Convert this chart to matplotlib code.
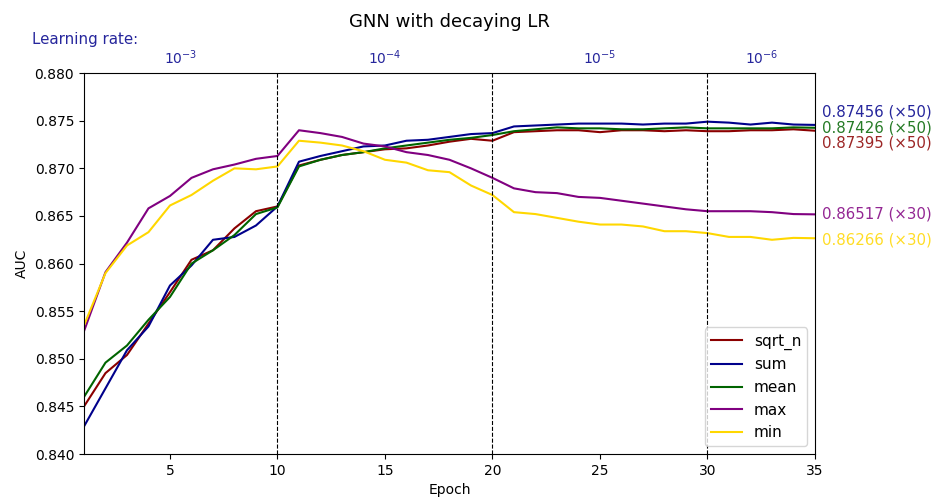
import numpy as np
import matplotlib
matplotlib.use("Agg")
import matplotlib.pyplot as plt
import matplotlib.transforms as mtransforms

epochs = list(range(1, 36))

sqrt_n = [0.8450, 0.8485, 0.8504, 0.8537, 0.8570, 0.8604, 0.8614, 0.8637, 0.8655, 0.8660,
          0.8703, 0.8709, 0.8714, 0.8717, 0.8720, 0.8721, 0.8724, 0.8728, 0.8731, 0.8729,
          0.8738, 0.8739, 0.8740, 0.8740, 0.8738, 0.8740, 0.8740, 0.8739, 0.8740, 0.8739,
          0.8739, 0.8740, 0.8740, 0.8741, 0.87395]
sum_ = [0.8429, 0.8469, 0.8509, 0.8534, 0.8577, 0.8598, 0.8625, 0.8628, 0.8640, 0.8660,
        0.8707, 0.8713, 0.8718, 0.8723, 0.8724, 0.8729, 0.8730, 0.8733, 0.8736, 0.8737,
        0.8744, 0.8745, 0.8746, 0.8747, 0.8747, 0.8747, 0.8746, 0.8747, 0.8747, 0.8749,
        0.8748, 0.8746, 0.8748, 0.8746, 0.87456]
mean = [0.8460, 0.8496, 0.8514, 0.8541, 0.8565, 0.8600, 0.8614, 0.8630, 0.8652, 0.8659,
        0.8702, 0.8709, 0.8714, 0.8717, 0.8721, 0.8724, 0.8727, 0.8730, 0.8732, 0.8735,
        0.8739, 0.8741, 0.8743, 0.8742, 0.8742, 0.8741, 0.8741, 0.8742, 0.8743, 0.8742,
        0.8742, 0.8742, 0.8742, 0.8743, 0.87426]
max_ = [0.8529, 0.8591, 0.8622, 0.8658, 0.8671, 0.8690, 0.8699, 0.8704, 0.8710, 0.8713,
        0.8740, 0.8737, 0.8733, 0.8726, 0.8723, 0.8717, 0.8714, 0.8709, 0.8700, 0.8690,
        0.8679, 0.8675, 0.8674, 0.8670, 0.8669, 0.8666, 0.8663, 0.8660, 0.8657, 0.8655,
        0.8655, 0.8655, 0.8654, 0.8652, 0.86517]
min_ = [0.8535, 0.8590, 0.8619, 0.8633, 0.8661, 0.8672, 0.8687, 0.8700, 0.8699, 0.8702,
        0.8729, 0.8727, 0.8724, 0.8718, 0.8709, 0.8706, 0.8698, 0.8696, 0.8682, 0.8672,
        0.8654, 0.8652, 0.8648, 0.8644, 0.8641, 0.8641, 0.8639, 0.8634, 0.8634, 0.8632,
        0.8628, 0.8628, 0.8625, 0.8627, 0.86266]

series = [("sqrt_n", sqrt_n, "darkred"), ("sum", sum_, "darkblue"),
          ("mean", mean, "darkgreen"), ("max", max_, "purple"), ("min", min_, "gold")]

lr_bounds = [10, 20, 30]
lr_labels = [r"$10^{-3}$", r"$10^{-4}$", r"$10^{-5}$", r"$10^{-6}$"]
lr_centers = [5.5, 15, 25, 32.5]

# end-of-line labels: (text, color, value, vertical offset in points)
end_labels = [("0.87456 (\u00d750)", "darkblue", sum_[-1], 9),
              ("0.87426 (\u00d750)", "darkgreen", mean[-1], 0),
              ("0.87395 (\u00d750)", "darkred", sqrt_n[-1], -9),
              ("0.86517 (\u00d730)", "purple", max_[-1], 0),
              ("0.86266 (\u00d730)", "gold", min_[-1], -1)]

fig = plt.figure(figsize=(9.33, 4.99), dpi=100)
ax = fig.add_axes([0.090, 0.090, 0.7835, 0.7635])

for name, vals, col in series:
    ax.plot(epochs, vals, color=col, label=name, linewidth=1.5)

for b in lr_bounds:
    ax.axvline(b, color="black", linestyle="--", linewidth=0.8)

ax.set_xlim(1, 35)
ax.set_ylim(0.840, 0.880)
ax.set_xticks([5, 10, 15, 20, 25, 30, 35])
ax.set_yticks(np.arange(0.840, 0.8801, 0.005))
ax.yaxis.set_major_formatter(matplotlib.ticker.FormatStrFormatter("%.3f"))
ax.set_xlabel("Epoch")
ax.set_ylabel("AUC")
ax.set_title("GNN with decaying LR", fontsize=13, pad=33)

trans = mtransforms.blended_transform_factory(ax.transData, ax.transAxes)
for c, lab in zip(lr_centers, lr_labels):
    ax.text(c, 1.04, lab, color="darkblue", alpha=0.85, ha="center", va="center",
            transform=trans, fontsize=10)
fig.text(0.034, 0.92, "Learning rate:", color="darkblue", alpha=0.85, ha="left", va="center",
         fontsize=10.8)

for txt, col, v, dy in end_labels:
    ax.annotate(txt, xy=(35, v), xytext=(5, dy), textcoords="offset points", alpha=0.85,
                color=col, ha="left", va="center", fontsize=10.8, annotation_clip=False)

ax.legend(loc="lower right", fontsize=11)

fig.savefig("out.png", dpi=100)
